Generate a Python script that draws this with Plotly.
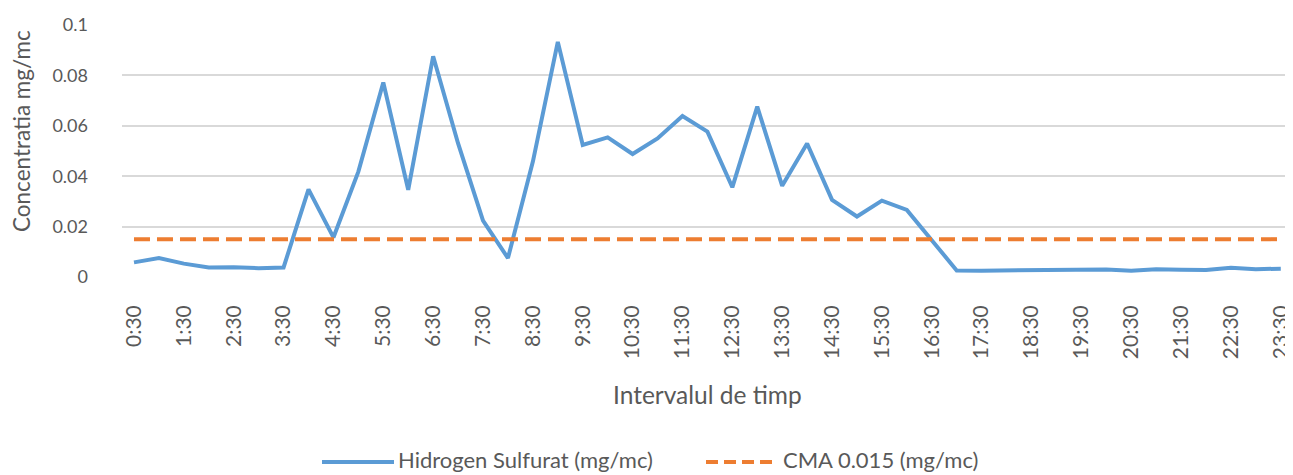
import plotly.graph_objects as go

categories = ["0:30", "1:00", "1:30", "2:00", "2:30", "3:00", "3:30", "4:00", "4:30", "5:00",
              "5:30", "6:00", "6:30", "7:00", "7:30", "8:00", "8:30", "9:00", "9:30", "10:00",
              "10:30", "11:00", "11:30", "12:00", "12:30", "13:00", "13:30", "14:00", "14:30", "15:00",
              "15:30", "16:00", "16:30", "17:00", "17:30", "18:00", "18:30", "19:00", "19:30", "20:00",
              "20:30", "21:00", "21:30", "22:00", "22:30", "23:00", "23:30"]

h2s_values = [0.0058, 0.0075, 0.0053, 0.0038, 0.0039, 0.0035, 0.0038, 0.0348, 0.0157, 0.0418,
              0.0772, 0.0346, 0.0876, 0.0530, 0.0224, 0.0075, 0.0458, 0.0933, 0.0524, 0.0554,
              0.0488, 0.0550, 0.0639, 0.0577, 0.0356, 0.0676, 0.0362, 0.0530, 0.0306, 0.0240,
              0.0303, 0.0266, 0.0146, 0.0026, 0.0025, 0.0026, 0.0026, 0.0028, 0.0029, 0.0030,
              0.0025, 0.0031, 0.0029, 0.0028, 0.0037, 0.0031, 0.0033]

cma_value = 0.015
cma_values = [cma_value] * len(categories)

tick_labels = categories[::2]
y_ticks = [0, 0.02, 0.04, 0.06, 0.08, 0.1]
y_tick_text = ["0", "0.02", "0.04", "0.06", "0.08", "0.1"]

series_names = ["Hidrogen Sulfurat (mg/mc)", "CMA 0.015 (mg/mc)"]
x_title = "Intervalul de timp"
y_title = "Concentratia mg/mc"

BLUE = "#5B9BD5"
ORANGE = "#ED7D31"
GREY_TEXT = "#595959"
FONT = "Lato, Carlito, Calibri, sans-serif"

# The page body has an 8px margin, so the figure is drawn 8px in from the
# window's top-left corner; size and place everything to compensate.
OFF = 8
W, H = 1293 - OFF, 475 - OFF
L, R, T, B = 122 - OFF, 0, 25 - OFF, 198
PW = W - L - R
PH = H - T - B


def px_x(x):
    return (x - OFF - L) / PW


def px_y(y):
    return (H - B - (y - OFF)) / PH


fig = go.Figure()
fig.add_trace(go.Scatter(x=categories, y=h2s_values, mode="lines", name=series_names[0],
                         line=dict(color=BLUE, width=4), showlegend=False))
fig.add_trace(go.Scatter(x=categories, y=cma_values, mode="lines", name=series_names[1],
                         line=dict(color=ORANGE, width=4, dash="16px,7px"), showlegend=False))

fig.update_layout(
    width=W, height=H,
    margin=dict(l=L, r=R, t=T, b=B, autoexpand=False),
    paper_bgcolor="white", plot_bgcolor="white",
    font=dict(family=FONT, color=GREY_TEXT, size=17),
)
fig.update_xaxes(
    type="category", categoryorder="array", categoryarray=categories,
    range=[-0.481, 46.49], automargin=False,
    tickmode="array", tickvals=tick_labels, ticktext=tick_labels,
    tickangle=-90, tickfont=dict(size=21, color=GREY_TEXT),
    showgrid=False, zeroline=False, showline=False, ticks="",
    ticklabelstandoff=23,
)
fig.update_yaxes(
    range=[0, 0.1], automargin=False,
    tickmode="array", tickvals=y_ticks, ticktext=y_tick_text,
    showgrid=True, gridcolor="#D9D9D9", gridwidth=1.5,
    zeroline=False, showline=False, ticks="",
    tickfont=dict(size=18, color=GREY_TEXT), ticklabelstandoff=33,
)

# Axis titles
fig.add_annotation(xref="paper", yref="paper", x=px_x(707.5), y=px_y(394),
                   text=x_title, showarrow=False, xanchor="center", yanchor="middle",
                   font=dict(size=24.5, color=GREY_TEXT))
fig.add_annotation(xref="paper", yref="paper", x=px_x(22), y=px_y(131),
                   text=y_title, showarrow=False, xanchor="center", yanchor="middle",
                   textangle=-90, font=dict(size=22.5, color=GREY_TEXT))

# Legend drawn manually to match the long line samples of the original
leg_text_y = px_y(459)
leg_line_y = px_y(462)
fig.add_shape(type="line", xref="paper", yref="paper",
              x0=px_x(322), x1=px_x(394), y0=leg_line_y, y1=leg_line_y,
              line=dict(color=BLUE, width=4))
fig.add_annotation(xref="paper", yref="paper", x=px_x(396), y=leg_text_y,
                   text=series_names[0], showarrow=False, xanchor="left", yanchor="middle",
                   font=dict(size=22, color=GREY_TEXT))
fig.add_shape(type="line", xref="paper", yref="paper",
              x0=px_x(706), x1=px_x(776), y0=leg_line_y, y1=leg_line_y,
              line=dict(color=ORANGE, width=4, dash="12px,6px"))
fig.add_annotation(xref="paper", yref="paper", x=px_x(781), y=leg_text_y,
                   text=series_names[1], showarrow=False, xanchor="left", yanchor="middle",
                   font=dict(size=22, color=GREY_TEXT))

fig.write_html("out.html")
